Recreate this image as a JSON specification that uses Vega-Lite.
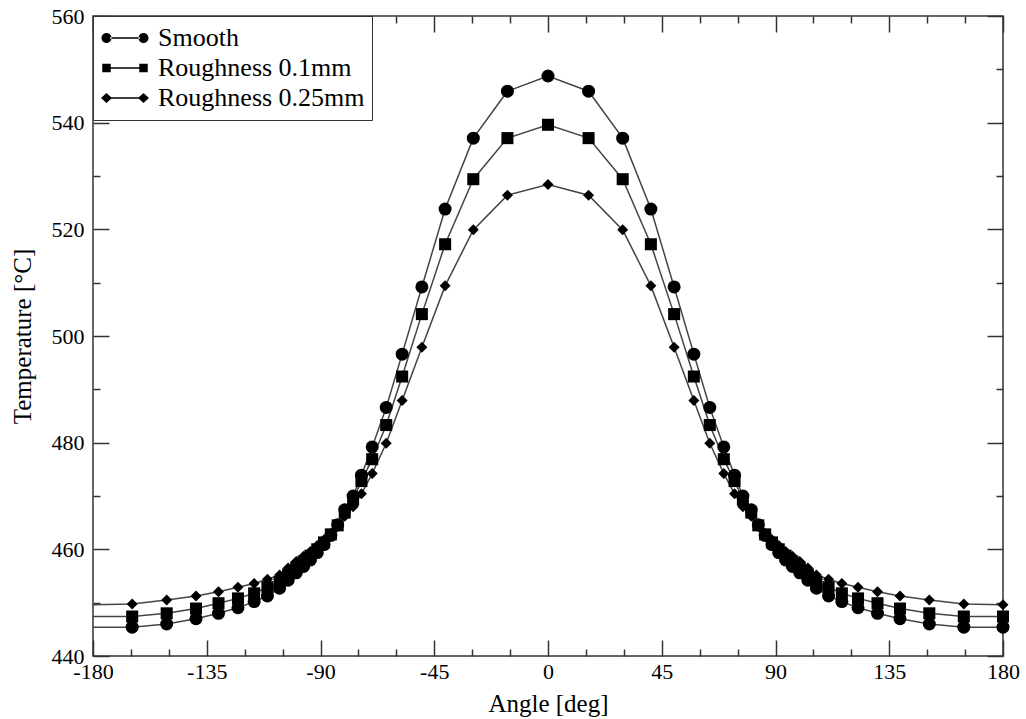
{
  "$schema": "https://vega.github.io/schema/vega-lite/v6.json",
  "width": 910,
  "height": 640,
  "autosize": "none",
  "padding": {"left": 93, "top": 16, "right": 23, "bottom": 63},
  "background": "white",
  "config": {
    "view": {"stroke": "#333", "strokeWidth": 1.5},
    "axis": {"labelFont": "Liberation Serif", "titleFont": "Liberation Serif", "labelFontSize": 22, "titleFontSize": 25, "titleFontWeight": "normal", "labelColor": "black", "titleColor": "black", "tickColor": "#333", "tickWidth": 1.5, "domain": false, "grid": false}
  },
  "data": {"values": [
    {"angle": -180, "temp": 445.4, "series": "Smooth"},
    {"angle": -164.5, "temp": 445.4, "series": "Smooth"},
    {"angle": -150.85, "temp": 446.0, "series": "Smooth"},
    {"angle": -139.25, "temp": 447.0, "series": "Smooth"},
    {"angle": -130.35, "temp": 448.0, "series": "Smooth"},
    {"angle": -122.65, "temp": 449.05, "series": "Smooth"},
    {"angle": -116.25, "temp": 450.2, "series": "Smooth"},
    {"angle": -111.0, "temp": 451.25, "series": "Smooth"},
    {"angle": -106.2, "temp": 452.7, "series": "Smooth"},
    {"angle": -102.8, "temp": 454.2, "series": "Smooth"},
    {"angle": -99.6, "temp": 455.6, "series": "Smooth"},
    {"angle": -96.7, "temp": 456.8, "series": "Smooth"},
    {"angle": -94.0, "temp": 458.0, "series": "Smooth"},
    {"angle": -91.3, "temp": 459.4, "series": "Smooth"},
    {"angle": -88.6, "temp": 460.9, "series": "Smooth"},
    {"angle": -85.9, "temp": 462.6, "series": "Smooth"},
    {"angle": -83.2, "temp": 464.6, "series": "Smooth"},
    {"angle": -80.4, "temp": 467.4, "series": "Smooth"},
    {"angle": -77.1, "temp": 470.0, "series": "Smooth"},
    {"angle": -73.8, "temp": 473.9, "series": "Smooth"},
    {"angle": -69.55, "temp": 479.2, "series": "Smooth"},
    {"angle": -64.0, "temp": 486.6, "series": "Smooth"},
    {"angle": -57.7, "temp": 496.6, "series": "Smooth"},
    {"angle": -49.9, "temp": 509.2, "series": "Smooth"},
    {"angle": -40.7, "temp": 523.8, "series": "Smooth"},
    {"angle": -29.55, "temp": 537.1, "series": "Smooth"},
    {"angle": -16.05, "temp": 545.9, "series": "Smooth"},
    {"angle": 0, "temp": 548.75, "series": "Smooth"},
    {"angle": 16.05, "temp": 545.9, "series": "Smooth"},
    {"angle": 29.55, "temp": 537.1, "series": "Smooth"},
    {"angle": 40.7, "temp": 523.8, "series": "Smooth"},
    {"angle": 49.9, "temp": 509.2, "series": "Smooth"},
    {"angle": 57.7, "temp": 496.6, "series": "Smooth"},
    {"angle": 64.0, "temp": 486.6, "series": "Smooth"},
    {"angle": 69.55, "temp": 479.2, "series": "Smooth"},
    {"angle": 73.8, "temp": 473.9, "series": "Smooth"},
    {"angle": 77.1, "temp": 470.0, "series": "Smooth"},
    {"angle": 80.4, "temp": 467.4, "series": "Smooth"},
    {"angle": 83.2, "temp": 464.6, "series": "Smooth"},
    {"angle": 85.9, "temp": 462.6, "series": "Smooth"},
    {"angle": 88.6, "temp": 460.9, "series": "Smooth"},
    {"angle": 91.3, "temp": 459.4, "series": "Smooth"},
    {"angle": 94.0, "temp": 458.0, "series": "Smooth"},
    {"angle": 96.7, "temp": 456.8, "series": "Smooth"},
    {"angle": 99.6, "temp": 455.6, "series": "Smooth"},
    {"angle": 102.8, "temp": 454.2, "series": "Smooth"},
    {"angle": 106.2, "temp": 452.7, "series": "Smooth"},
    {"angle": 111.0, "temp": 451.25, "series": "Smooth"},
    {"angle": 116.25, "temp": 450.2, "series": "Smooth"},
    {"angle": 122.65, "temp": 449.05, "series": "Smooth"},
    {"angle": 130.35, "temp": 448.0, "series": "Smooth"},
    {"angle": 139.25, "temp": 447.0, "series": "Smooth"},
    {"angle": 150.85, "temp": 446.0, "series": "Smooth"},
    {"angle": 164.5, "temp": 445.4, "series": "Smooth"},
    {"angle": 180, "temp": 445.4, "series": "Smooth"},
    {"angle": -180, "temp": 447.4, "series": "Roughness 0.1mm"},
    {"angle": -164.5, "temp": 447.4, "series": "Roughness 0.1mm"},
    {"angle": -150.85, "temp": 448.0, "series": "Roughness 0.1mm"},
    {"angle": -139.25, "temp": 448.9, "series": "Roughness 0.1mm"},
    {"angle": -130.35, "temp": 449.9, "series": "Roughness 0.1mm"},
    {"angle": -122.65, "temp": 450.8, "series": "Roughness 0.1mm"},
    {"angle": -116.25, "temp": 451.75, "series": "Roughness 0.1mm"},
    {"angle": -111.0, "temp": 452.9, "series": "Roughness 0.1mm"},
    {"angle": -106.2, "temp": 453.9, "series": "Roughness 0.1mm"},
    {"angle": -102.8, "temp": 455.3, "series": "Roughness 0.1mm"},
    {"angle": -99.6, "temp": 456.6, "series": "Roughness 0.1mm"},
    {"angle": -96.7, "temp": 457.7, "series": "Roughness 0.1mm"},
    {"angle": -94.0, "temp": 458.8, "series": "Roughness 0.1mm"},
    {"angle": -91.3, "temp": 460.0, "series": "Roughness 0.1mm"},
    {"angle": -88.6, "temp": 461.3, "series": "Roughness 0.1mm"},
    {"angle": -85.9, "temp": 462.8, "series": "Roughness 0.1mm"},
    {"angle": -83.2, "temp": 464.5, "series": "Roughness 0.1mm"},
    {"angle": -80.4, "temp": 466.9, "series": "Roughness 0.1mm"},
    {"angle": -77.1, "temp": 469.3, "series": "Roughness 0.1mm"},
    {"angle": -73.8, "temp": 472.8, "series": "Roughness 0.1mm"},
    {"angle": -69.55, "temp": 476.9, "series": "Roughness 0.1mm"},
    {"angle": -64.0, "temp": 483.3, "series": "Roughness 0.1mm"},
    {"angle": -57.7, "temp": 492.4, "series": "Roughness 0.1mm"},
    {"angle": -49.9, "temp": 504.1, "series": "Roughness 0.1mm"},
    {"angle": -40.7, "temp": 517.2, "series": "Roughness 0.1mm"},
    {"angle": -29.55, "temp": 529.4, "series": "Roughness 0.1mm"},
    {"angle": -16.05, "temp": 537.1, "series": "Roughness 0.1mm"},
    {"angle": 0, "temp": 539.6, "series": "Roughness 0.1mm"},
    {"angle": 16.05, "temp": 537.1, "series": "Roughness 0.1mm"},
    {"angle": 29.55, "temp": 529.4, "series": "Roughness 0.1mm"},
    {"angle": 40.7, "temp": 517.2, "series": "Roughness 0.1mm"},
    {"angle": 49.9, "temp": 504.1, "series": "Roughness 0.1mm"},
    {"angle": 57.7, "temp": 492.4, "series": "Roughness 0.1mm"},
    {"angle": 64.0, "temp": 483.3, "series": "Roughness 0.1mm"},
    {"angle": 69.55, "temp": 476.9, "series": "Roughness 0.1mm"},
    {"angle": 73.8, "temp": 472.8, "series": "Roughness 0.1mm"},
    {"angle": 77.1, "temp": 469.3, "series": "Roughness 0.1mm"},
    {"angle": 80.4, "temp": 466.9, "series": "Roughness 0.1mm"},
    {"angle": 83.2, "temp": 464.5, "series": "Roughness 0.1mm"},
    {"angle": 85.9, "temp": 462.8, "series": "Roughness 0.1mm"},
    {"angle": 88.6, "temp": 461.3, "series": "Roughness 0.1mm"},
    {"angle": 91.3, "temp": 460.0, "series": "Roughness 0.1mm"},
    {"angle": 94.0, "temp": 458.8, "series": "Roughness 0.1mm"},
    {"angle": 96.7, "temp": 457.7, "series": "Roughness 0.1mm"},
    {"angle": 99.6, "temp": 456.6, "series": "Roughness 0.1mm"},
    {"angle": 102.8, "temp": 455.3, "series": "Roughness 0.1mm"},
    {"angle": 106.2, "temp": 453.9, "series": "Roughness 0.1mm"},
    {"angle": 111.0, "temp": 452.9, "series": "Roughness 0.1mm"},
    {"angle": 116.25, "temp": 451.75, "series": "Roughness 0.1mm"},
    {"angle": 122.65, "temp": 450.8, "series": "Roughness 0.1mm"},
    {"angle": 130.35, "temp": 449.9, "series": "Roughness 0.1mm"},
    {"angle": 139.25, "temp": 448.9, "series": "Roughness 0.1mm"},
    {"angle": 150.85, "temp": 448.0, "series": "Roughness 0.1mm"},
    {"angle": 164.5, "temp": 447.4, "series": "Roughness 0.1mm"},
    {"angle": 180, "temp": 447.4, "series": "Roughness 0.1mm"},
    {"angle": -180, "temp": 449.6, "series": "Roughness 0.25mm"},
    {"angle": -164.5, "temp": 449.75, "series": "Roughness 0.25mm"},
    {"angle": -150.85, "temp": 450.5, "series": "Roughness 0.25mm"},
    {"angle": -139.25, "temp": 451.25, "series": "Roughness 0.25mm"},
    {"angle": -130.35, "temp": 452.05, "series": "Roughness 0.25mm"},
    {"angle": -122.65, "temp": 452.9, "series": "Roughness 0.25mm"},
    {"angle": -116.25, "temp": 453.6, "series": "Roughness 0.25mm"},
    {"angle": -111.0, "temp": 454.4, "series": "Roughness 0.25mm"},
    {"angle": -106.2, "temp": 455.2, "series": "Roughness 0.25mm"},
    {"angle": -102.8, "temp": 456.5, "series": "Roughness 0.25mm"},
    {"angle": -99.6, "temp": 457.7, "series": "Roughness 0.25mm"},
    {"angle": -96.7, "temp": 458.7, "series": "Roughness 0.25mm"},
    {"angle": -94.0, "temp": 459.6, "series": "Roughness 0.25mm"},
    {"angle": -91.3, "temp": 460.7, "series": "Roughness 0.25mm"},
    {"angle": -88.6, "temp": 461.8, "series": "Roughness 0.25mm"},
    {"angle": -85.9, "temp": 463.0, "series": "Roughness 0.25mm"},
    {"angle": -83.2, "temp": 464.3, "series": "Roughness 0.25mm"},
    {"angle": -80.4, "temp": 466.2, "series": "Roughness 0.25mm"},
    {"angle": -77.1, "temp": 468.0, "series": "Roughness 0.25mm"},
    {"angle": -73.8, "temp": 470.4, "series": "Roughness 0.25mm"},
    {"angle": -69.55, "temp": 474.2, "series": "Roughness 0.25mm"},
    {"angle": -64.0, "temp": 479.9, "series": "Roughness 0.25mm"},
    {"angle": -57.7, "temp": 487.9, "series": "Roughness 0.25mm"},
    {"angle": -49.9, "temp": 497.9, "series": "Roughness 0.25mm"},
    {"angle": -40.7, "temp": 509.4, "series": "Roughness 0.25mm"},
    {"angle": -29.55, "temp": 519.9, "series": "Roughness 0.25mm"},
    {"angle": -16.05, "temp": 526.4, "series": "Roughness 0.25mm"},
    {"angle": 0, "temp": 528.4, "series": "Roughness 0.25mm"},
    {"angle": 16.05, "temp": 526.4, "series": "Roughness 0.25mm"},
    {"angle": 29.55, "temp": 519.9, "series": "Roughness 0.25mm"},
    {"angle": 40.7, "temp": 509.4, "series": "Roughness 0.25mm"},
    {"angle": 49.9, "temp": 497.9, "series": "Roughness 0.25mm"},
    {"angle": 57.7, "temp": 487.9, "series": "Roughness 0.25mm"},
    {"angle": 64.0, "temp": 479.9, "series": "Roughness 0.25mm"},
    {"angle": 69.55, "temp": 474.2, "series": "Roughness 0.25mm"},
    {"angle": 73.8, "temp": 470.4, "series": "Roughness 0.25mm"},
    {"angle": 77.1, "temp": 468.0, "series": "Roughness 0.25mm"},
    {"angle": 80.4, "temp": 466.2, "series": "Roughness 0.25mm"},
    {"angle": 83.2, "temp": 464.3, "series": "Roughness 0.25mm"},
    {"angle": 85.9, "temp": 463.0, "series": "Roughness 0.25mm"},
    {"angle": 88.6, "temp": 461.8, "series": "Roughness 0.25mm"},
    {"angle": 91.3, "temp": 460.7, "series": "Roughness 0.25mm"},
    {"angle": 94.0, "temp": 459.6, "series": "Roughness 0.25mm"},
    {"angle": 96.7, "temp": 458.7, "series": "Roughness 0.25mm"},
    {"angle": 99.6, "temp": 457.7, "series": "Roughness 0.25mm"},
    {"angle": 102.8, "temp": 456.5, "series": "Roughness 0.25mm"},
    {"angle": 106.2, "temp": 455.2, "series": "Roughness 0.25mm"},
    {"angle": 111.0, "temp": 454.4, "series": "Roughness 0.25mm"},
    {"angle": 116.25, "temp": 453.6, "series": "Roughness 0.25mm"},
    {"angle": 122.65, "temp": 452.9, "series": "Roughness 0.25mm"},
    {"angle": 130.35, "temp": 452.05, "series": "Roughness 0.25mm"},
    {"angle": 139.25, "temp": 451.25, "series": "Roughness 0.25mm"},
    {"angle": 150.85, "temp": 450.5, "series": "Roughness 0.25mm"},
    {"angle": 164.5, "temp": 449.75, "series": "Roughness 0.25mm"},
    {"angle": 180, "temp": 449.6, "series": "Roughness 0.25mm"}
  ]},
  "resolve": {"scale": {"shape": "independent", "size": "independent"}, "axis": {"x": "independent", "y": "independent"}},
  "layer": [
    {
      "mark": {"type": "line", "color": "#444", "strokeWidth": 1.5, "clip": false},
      "encoding": {
        "x": {"field": "angle", "type": "quantitative", "scale": {"domain": [-180, 180], "nice": false},
              "axis": {"orient": "bottom", "values": [-180, -135, -90, -45, 0, 45, 90, 135, 180], "labelExpr": "'' + datum.value", "tickSize": -16, "labelPadding": 21, "title": "Angle [deg]", "titlePadding": 9, "labelFlush": false}},
        "y": {"field": "temp", "type": "quantitative", "scale": {"domain": [440, 560], "nice": false, "zero": false},
              "axis": {"orient": "left", "values": [440, 460, 480, 500, 520, 540, 560], "tickSize": -16, "labelPadding": 25, "title": "Temperature [°C]", "titlePadding": 16, "labelFlush": false}},
        "detail": {"field": "series", "type": "nominal"}
      }
    },
    {
      "transform": [{"filter": "datum.angle > -180"}],
      "mark": {"type": "point", "filled": true, "color": "black", "opacity": 1, "clip": false},
      "encoding": {
        "x": {"field": "angle", "type": "quantitative",
              "axis": {"orient": "top", "values": [-180, -135, -90, -45, 0, 45, 90, 135, 180], "tickSize": -16, "labels": false, "title": null}},
        "y": {"field": "temp", "type": "quantitative",
              "axis": {"orient": "right", "values": [440, 460, 480, 500, 520, 540, 560], "tickSize": -16, "labels": false, "title": null}},
        "shape": {"field": "series", "type": "nominal", "legend": null,
                  "scale": {"domain": ["Smooth", "Roughness 0.1mm", "Roughness 0.25mm"], "range": ["circle", "square", "diamond"]}},
        "size": {"field": "series", "type": "nominal", "legend": null,
                 "scale": {"domain": ["Smooth", "Roughness 0.1mm", "Roughness 0.25mm"], "range": [169, 121, 140]}}
      }
    },
    {
      "transform": [{"filter": "false"}],
      "mark": {"type": "point", "filled": true, "color": "black", "opacity": 1},
      "encoding": {
        "x": {"field": "angle", "type": "quantitative",
              "axis": {"orient": "bottom", "values": [-165, -150, -120, -105, -75, -60, -30, -15, 15, 30, 60, 75, 105, 120, 150, 165], "tickSize": -7, "labels": false, "title": null}},
        "y": {"field": "temp", "type": "quantitative",
              "axis": {"orient": "left", "values": [450, 470, 490, 510, 530, 550], "tickSize": -7, "labels": false, "title": null}},
        "shape": {"field": "series", "type": "nominal",
                  "scale": {"domain": ["Smooth", "Roughness 0.1mm", "Roughness 0.25mm"],
                            "range": [
                              "M-0.94,0A0.2,0.2,0,1,0,-0.54,0A0.2,0.2,0,1,0,-0.94,0Z M0.54,0A0.2,0.2,0,1,0,0.94,0A0.2,0.2,0,1,0,0.54,0Z M-0.6,-0.03H0.6V0.03H-0.6Z",
                              "M-0.91,-0.17H-0.57V0.17H-0.91Z M0.57,-0.17H0.91V0.17H0.57Z M-0.6,-0.03H0.6V0.03H-0.6Z",
                              "M-0.96,0L-0.74,-0.2L-0.52,0L-0.74,0.2Z M0.52,0L0.74,-0.2L0.96,0L0.74,0.2Z M-0.6,-0.03H0.6V0.03H-0.6Z"
                            ]},
                  "legend": {"orient": "top-left", "offset": 0, "padding": 7, "title": null, "clipHeight": 30, "rowPadding": 0,
                             "symbolSize": 2500, "symbolFillColor": "black", "symbolStrokeColor": "black", "symbolStrokeWidth": 0, "symbolOpacity": 1, "symbolOffset": 0,
                             "labelOffset": 8, "labelFont": "Liberation Serif", "labelFontSize": 26, "labelColor": "black", "labelLimit": 0,
                             "strokeColor": "#333", "fillColor": "white"}}
      }
    },
    {
      "transform": [{"filter": "false"}],
      "mark": {"type": "point", "opacity": 0},
      "encoding": {
        "x": {"field": "angle", "type": "quantitative",
              "axis": {"orient": "top", "values": [-165, -150, -120, -105, -75, -60, -30, -15, 15, 30, 60, 75, 105, 120, 150, 165], "tickSize": -7, "labels": false, "title": null}},
        "y": {"field": "temp", "type": "quantitative",
              "axis": {"orient": "right", "values": [450, 470, 490, 510, 530, 550], "tickSize": -7, "labels": false, "title": null}}
      }
    }
  ]
}
